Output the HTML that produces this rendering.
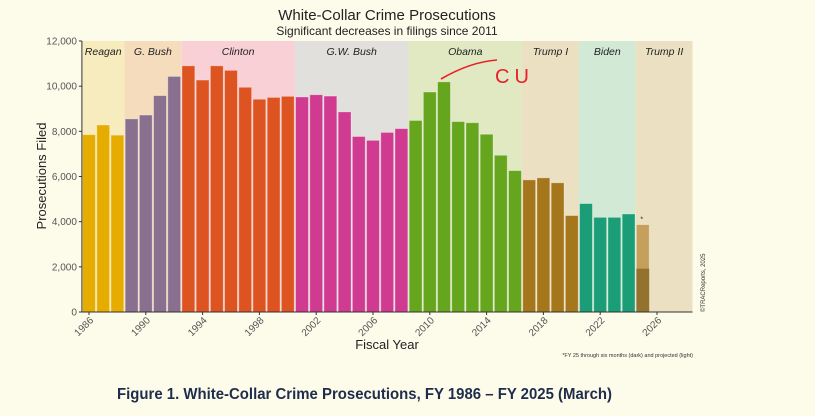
<!DOCTYPE html>
<html><head><meta charset="utf-8"><style>
html,body{margin:0;padding:0;background:#fdfbe9;}
svg{display:block;font-family:"Liberation Sans",sans-serif;}
</style></head><body>
<svg id="chart" width="815" height="416" viewBox="0 0 815 416" xmlns="http://www.w3.org/2000/svg">
<rect x="0" y="0" width="815" height="416" fill="#fdfbe9"/>
<text x="387" y="20" text-anchor="middle" font-size="15" fill="#222">White-Collar Crime Prosecutions</text>
<text x="387" y="35" text-anchor="middle" font-size="12" fill="#222">Significant decreases in filings since 2011</text>
<g id="regions"></g>
<g id="bars"></g>
<g id="axes"></g>
<text x="0" y="0" transform="translate(46,176) rotate(-90)" text-anchor="middle" font-size="13" fill="#222">Prosecutions Filed</text>
<text x="387" y="349" text-anchor="middle" font-size="13" fill="#222">Fiscal Year</text>
<text x="693" y="357" text-anchor="end" font-size="5.5" fill="#333">*FY 25 through six months (dark) and projected (light)</text>
<text x="0" y="0" transform="translate(705,312) rotate(-90)" font-size="6" fill="#333">©TRACReports, 2025</text>
<path d="M441,79 Q470,62 497,60" stroke="#e8202a" stroke-width="1.6" fill="none"/>
<text x="495" y="83" font-size="20" fill="#e8202a" letter-spacing="5">CU</text>
<text x="117" y="399" font-size="15.5" font-weight="bold" fill="#1f2d4d" textLength="495" lengthAdjust="spacingAndGlyphs">Figure 1. White-Collar Crime Prosecutions, FY 1986 – FY 2025 (March)</text>
</svg>
<script>
const years = [1986,1987,1988,1989,1990,1991,1992,1993,1994,1995,1996,1997,1998,1999,2000,2001,2002,2003,2004,2005,2006,2007,2008,2009,2010,2011,2012,2013,2014,2015,2016,2017,2018,2019,2020,2021,2022,2023,2024,2025];
const filings = [7850,8280,7830,8550,8720,9580,10430,10900,10270,10900,10700,9950,9420,9500,9550,9520,9620,9560,8860,7770,7600,7950,8120,8480,9740,10190,8430,8380,7870,6940,6260,5850,5940,5720,4270,4800,4190,4190,4340,3870];
const fy25Actual = [1920];
const presidents = ["Reagan","G. Bush","Clinton","G.W. Bush","Obama","Trump I","Biden","Trump II"];
const termStart = [1986,1989,1993,2001,2009,2017,2021,2025];
const termEnd = [1988,1992,2000,2008,2016,2020,2024,2028];
const yTicks = [0,2000,4000,6000,8000,10000,12000];
const xTicks = [1986,1990,1994,1998,2002,2006,2010,2014,2018,2022,2026];

const barColors = ["#e6ac00","#89708f","#dd5421","#d03a91","#66a61e","#a6761d","#1b9e77","#c4a05c"];
const bgColors = ["#f7ecbd","#f5dcbd","#f8d0d6","#e2e0dd","#e1e9c3","#ebe0c2","#d1e9d5","#ebe1c2"];
const NS = "http://www.w3.org/2000/svg";
const X0 = 81.9, PXY = 14.2, Y0 = 312, PXV = 271/12000;
const xs = yr => X0 + (yr - 1985.5) * PXY;
const ys = v => Y0 - v * PXV;
function mk(tag, attrs, parent){const e=document.createElementNS(NS,tag);for(const k in attrs)e.setAttribute(k,attrs[k]);parent.appendChild(e);return e;}
const gR=document.getElementById('regions'), gB=document.getElementById('bars'), gA=document.getElementById('axes');
presidents.forEach((p,i)=>{
  const r=mk('rect',{x:xs(termStart[i]-0.5),y:ys(12000),width:(termEnd[i]-termStart[i]+1)*PXY,height:ys(0)-ys(12000),fill:bgColors[i]},gR);
  
  
  const t=mk('text',{x:xs((termStart[i]+termEnd[i])/2),y:ys(12000)+14,'text-anchor':'middle','font-size':10.5,'font-style':'italic',fill:'#222'},gR);
  t.textContent=p;
  
  
});
function termIdx(yr){for(let i=0;i<termStart.length;i++)if(yr>=termStart[i]&&yr<=termEnd[i])return i;return 0;}
years.forEach((yr,i)=>{
  const ti=termIdx(yr);
  const b=mk('rect',{x:xs(yr)-6.4,y:ys(filings[i]),width:12.8,height:ys(0)-ys(filings[i]),fill:barColors[ti],stroke:'rgba(255,255,255,0.35)','stroke-width':0.8},gB);
  
  
});
fy25Actual.forEach(v=>{
  const b=mk('rect',{x:xs(2025)-6.4,y:ys(v),width:12.8,height:ys(0)-ys(v),fill:'#93712f'},gB);
  
  
});
const ast=mk('text',{x:xs(2025)-1,y:ys(filings[filings.length-1])-3,'font-size':7,'text-anchor':'middle',fill:'#222'},gB);
ast.textContent='*';


const ax=mk('line',{x1:X0,y1:ys(12000),x2:X0,y2:Y0,stroke:'#333','stroke-width':1},gA);


const bx=mk('line',{x1:X0,y1:Y0,x2:xs(2028.5),y2:Y0,stroke:'#333','stroke-width':1},gA);


yTicks.forEach(v=>{
  const l=mk('line',{x1:X0-3,y1:ys(v),x2:X0,y2:ys(v),stroke:'#333'},gA);
  
  
  const t=mk('text',{x:X0-5,y:ys(v)+3.5,'text-anchor':'end','font-size':10,fill:'#555'},gA);
  t.textContent=v.toLocaleString('en-US');
  
  
});
xTicks.forEach(yr=>{
  const l=mk('line',{x1:xs(yr),y1:Y0,x2:xs(yr),y2:Y0+3,stroke:'#333'},gA);
  
  
  const t=mk('text',{x:0,y:0,'text-anchor':'end','font-size':10,fill:'#555',transform:'translate('+(xs(yr)+5)+','+(Y0+9)+') rotate(-45)'},gA);
  t.textContent=yr;
  
  
});
</script>
</body></html>
